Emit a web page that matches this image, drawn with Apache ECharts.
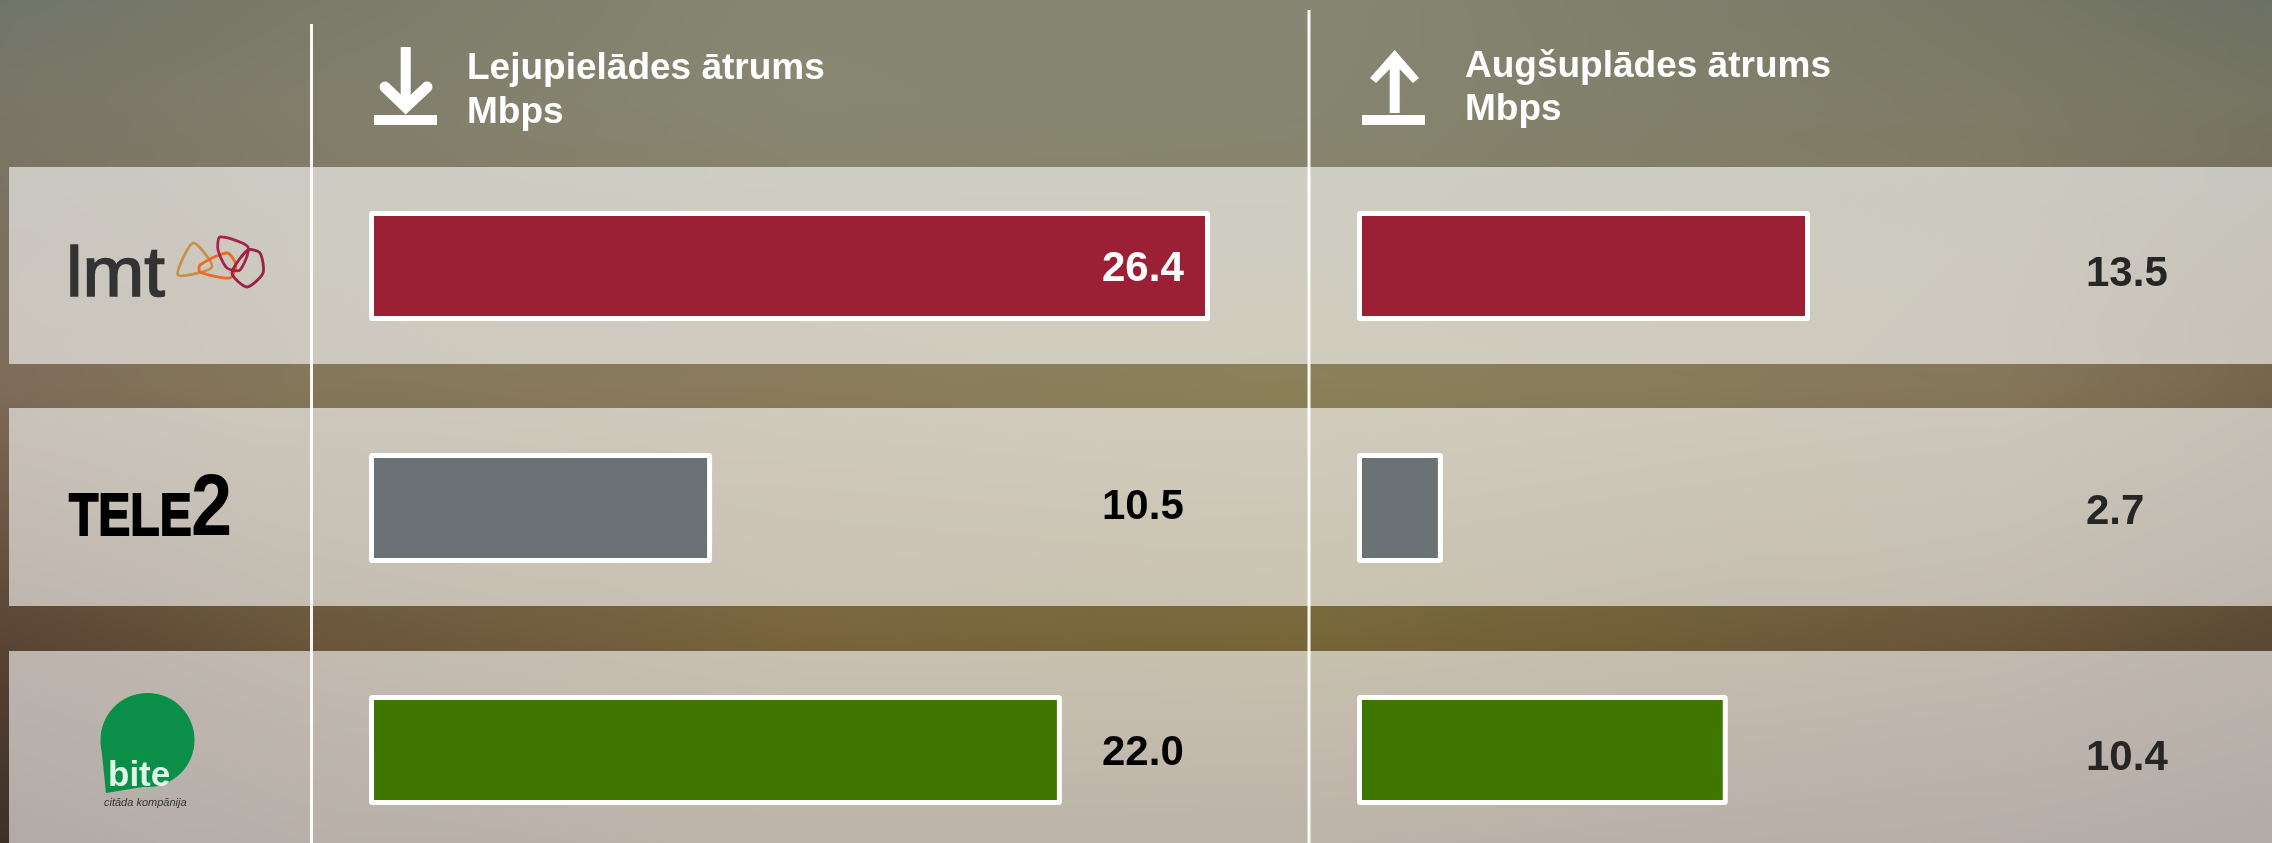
<!DOCTYPE html>
<html>
<head>
<meta charset="utf-8">
<style>
html,body{margin:0;padding:0;width:2272px;height:843px;overflow:hidden;background:#7a6a50}
#bg,#chart{position:absolute;left:0;top:0;width:2272px;height:843px}
</style>
<script src="https://cdn.jsdelivr.net/npm/echarts@6/dist/echarts.min.js"></script>
</head>
<body>
<canvas id="bg" width="2272" height="843"></canvas>
<div id="chart"></div>
<script>
// Operators, top to bottom
const operators = ['LMT', 'Tele2', 'Bite'];
// Values as printed in the reference
const downloadPrinted = ['26.4', '10.5', '22.0'];
const uploadPrinted = ['13.5', '2.7', '10.4'];
// Bar lengths as measured in the reference (its bars are not exactly proportional to the printed values)
const downloadBars = [26.4, 10.77, 21.75];
const uploadBars = [13.5, 2.56, 11.05];
const barColors = ['#9b2035', '#6b7275', '#3f7600'];
const downloadLabelColors = ['#ffffff', '#000000', '#000000'];
const uploadLabelColors = ['#262626', '#262626', '#262626'];
const downloadHeader = 'Lejupielādes ātrums\nMbps';
const uploadHeader = 'Augšuplādes ātrums\nMbps';

// Blurred photo backdrop: bilinear colour mesh
(function () {
  const xs = [0, 300, 800, 1300, 2000, 2272];
  const ys = [0, 100, 385, 630, 843];
  const mesh = [
    ['70756a', '7b7a69', '868672', '868672', '777866', '6c7063'],
    ['797667', '807d6b', '878772', '858571', '7d7b66', '757563'],
    ['7e6c58', '84775a', '8a7c5b', '8b8159', '85775a', '75654c'],
    ['5b4534', '6a573c', '7a653f', '786839', '6a563a', '5c4a35'],
    ['3d2f28', '4d3a2a', '5a4529', '574328', '4a3526', '402d22']
  ].map(r => r.map(h => [parseInt(h.slice(0, 2), 16), parseInt(h.slice(2, 4), 16), parseInt(h.slice(4, 6), 16)]));
  const c = document.getElementById('bg').getContext('2d');
  const img = c.createImageData(2272, 843);
  let p = 0;
  for (let y = 0; y < 843; y++) {
    let j = 0;
    while (j < ys.length - 2 && y >= ys[j + 1]) j++;
    const v = (y - ys[j]) / (ys[j + 1] - ys[j]);
    for (let x = 0; x < 2272; x++) {
      let i = 0;
      while (i < xs.length - 2 && x >= xs[i + 1]) i++;
      const u = (x - xs[i]) / (xs[i + 1] - xs[i]);
      for (let k = 0; k < 3; k++) {
        img.data[p + k] = (mesh[j][i][k] * (1 - u) + mesh[j][i + 1][k] * u) * (1 - v) +
          (mesh[j + 1][i][k] * (1 - u) + mesh[j + 1][i + 1][k] * u) * v;
      }
      img.data[p + 3] = 255;
      p += 4;
    }
  }
  c.putImageData(img, 0, 0);
})();

const chart = echarts.init(document.getElementById('chart'), null, { renderer: 'canvas', width: 2272, height: 843 });
const FONT = '"Liberation Sans", Arial, sans-serif';

function band(y, h) {
  return { type: 'rect', z: 0, silent: true, shape: { x: 9, y: y, width: 2263, height: h }, style: { fill: 'rgba(255,255,255,0.6)' } };
}
function vline(x, y) {
  return { type: 'rect', z: 1, silent: true, shape: { x: x, y: y, width: 3, height: 843 - y }, style: { fill: 'rgba(255,255,255,0.95)' } };
}
// y is the text baseline; the text is placed by its bottom edge (descent about 0.21 of the size)
function txt(text, x, y, size, weight, fill, extra, styleExtra) {
  return Object.assign({ type: 'text', z: 3, silent: true, x: x, y: y + size * 0.21,
    style: Object.assign({ text: text, x: 0, y: 0, font: weight + ' ' + size + 'px ' + FONT, fill: fill,
      verticalAlign: 'bottom', align: 'left' }, styleExtra || {}) }, extra || {});
}
function line(points, width, color, cap) {
  return { type: 'polyline', z: 3, silent: true, shape: { points: points },
    style: { stroke: color, lineWidth: width, fill: null, lineCap: cap || 'butt', lineJoin: 'miter' } };
}
function loop(points, color) {
  return { type: 'polygon', z: 3, silent: true, shape: { points: points, smooth: 0.25 },
    style: { stroke: color, lineWidth: 2.8, fill: null, lineJoin: 'round' } };
}

const graphics = [
  band(167, 197), band(408, 198), band(651, 192),
  vline(310, 24), vline(1307.5, 10),

  // download icon
  line([[405.7, 47], [405.7, 106]], 10, '#ffffff'),
  line([[385, 87], [405.7, 107], [427, 87]], 11, '#ffffff', 'round'),
  { type: 'rect', z: 3, silent: true, shape: { x: 374, y: 115, width: 63, height: 10 }, style: { fill: '#ffffff' } },

  // upload icon
  line([[1394.7, 62], [1394.7, 113]], 10, '#ffffff'),
  { type: 'polygon', z: 3, silent: true, shape: { points: [[1394.7, 50], [1419, 78], [1413, 83], [1394.7, 64], [1376, 83], [1370, 78]] }, style: { fill: '#ffffff' } },
  { type: 'rect', z: 3, silent: true, shape: { x: 1362, y: 115, width: 63, height: 10 }, style: { fill: '#ffffff' } },

  // headers
  txt(downloadHeader.split('\n')[0], 467, 80, 37, 'bold', '#ffffff'),
  txt(downloadHeader.split('\n')[1], 467, 124, 37, 'bold', '#ffffff'),
  txt(uploadHeader.split('\n')[0], 1465, 78, 37, 'bold', '#ffffff'),
  txt(uploadHeader.split('\n')[1], 1465, 121, 37, 'bold', '#ffffff'),

  // lmt logo
  txt('lmt', 66, 297, 70, 'normal', '#333333', { scaleX: 1.06 }, { stroke: '#333333', lineWidth: 1.5 }),
  loop([[193, 243], [212, 267], [178, 275]], '#c98f45'),
  loop([[200, 265], [227, 253], [236, 265], [230, 278], [200, 272]], '#ee6a1f'),
  loop([[220, 237], [248, 247], [240, 270], [227, 268], [218, 250]], '#a8234a'),
  loop([[248, 250], [260, 253], [263, 273], [247, 287], [232, 273]], '#9c2144'),

  // Tele2 logo
  txt('TELE', 69, 536, 60, 'bold', '#000000', { scaleX: 0.8 }, { stroke: '#000000', lineWidth: 2 }),
  txt('2', 191, 536, 88, 'bold', '#000000', { scaleX: 0.84 }),

  // Bite logo
  { type: 'circle', z: 3, silent: true, shape: { cx: 147.5, cy: 740, r: 47 }, style: { fill: '#0b8f48' } },
  { type: 'polygon', z: 3, silent: true, shape: { points: [[100.7, 742], [106, 793], [167, 783], [147, 740]] }, style: { fill: '#0b8f48' } },
  txt('bite', 108, 786, 35, 'bold', '#dff7e6'),
  txt('citāda kompānija', 104, 806, 11, 'italic', '#333333')
];

function barSeries(axisIndex, name, bars, printed, labelColors, labelX, labelDy) {
  return {
    type: 'bar', name: name, xAxisIndex: axisIndex, yAxisIndex: axisIndex, barWidth: 110,
    silent: true, animation: false, clip: false, z: 4,
    data: bars.map((v, i) => ({
      value: v,
      itemStyle: { color: barColors[i], borderColor: '#ffffff', borderWidth: 5, borderRadius: 1 },
      label: {
        show: true, formatter: printed[i], position: [labelX, labelDy[i]],
        color: labelColors[i], fontFamily: FONT, fontWeight: 'bold', fontSize: 42,
        align: 'left', verticalAlign: 'middle'
      }
    }))
  };
}

chart.setOption({
  animation: false,
  backgroundColor: 'transparent',
  textStyle: { fontFamily: FONT },
  grid: [
    { left: 369, top: 145, width: 955.7, height: 726, containLabel: false, outerBoundsMode: 'none' },
    { left: 1357, top: 145, width: 671.1, height: 726, containLabel: false, outerBoundsMode: 'none' }
  ],
  xAxis: [
    { type: 'value', gridIndex: 0, min: 0, max: 30, show: false },
    { type: 'value', gridIndex: 1, min: 0, max: 20, show: false }
  ],
  yAxis: [
    { type: 'category', gridIndex: 0, data: operators, inverse: true, show: false },
    { type: 'category', gridIndex: 1, data: operators, inverse: true, show: false }
  ],
  graphic: { elements: graphics },
  series: [
    barSeries(0, 'Lejupielādes ātrums', downloadBars, downloadPrinted, downloadLabelColors, 733, [58, 54, 58]),
    barSeries(1, 'Augšuplādes ātrums', uploadBars, uploadPrinted, uploadLabelColors, 729, [63, 59, 63])
  ]
});
</script>
</body>
</html>
